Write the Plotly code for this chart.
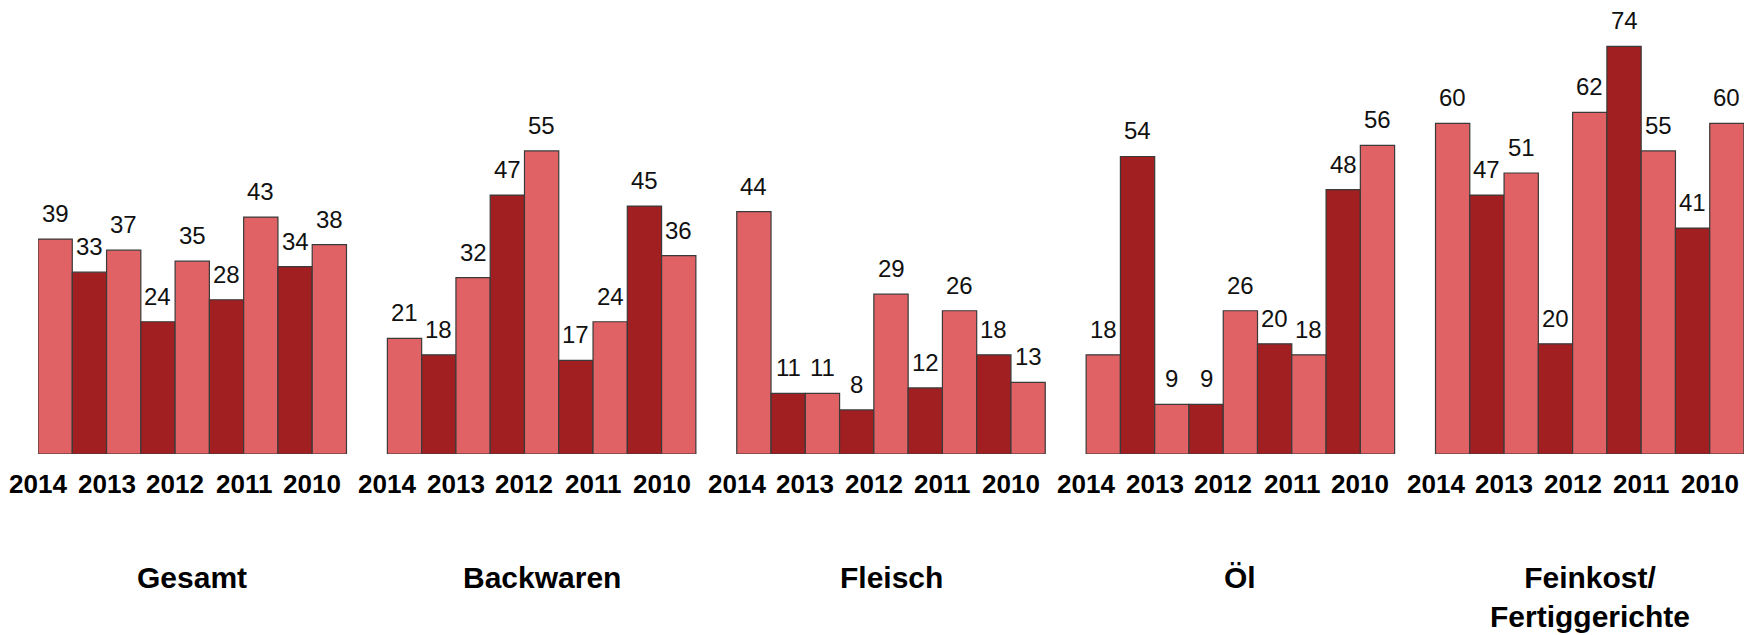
import plotly.graph_objects as go

groups = ["Gesamt", "Backwaren", "Fleisch", "Öl", "Feinkost/<br>Fertiggerichte"]
gesamt = [39, 33, 37, 24, 35, 28, 43, 34, 38]
backwaren = [21, 18, 32, 47, 55, 17, 24, 45, 36]
fleisch = [44, 11, 11, 8, 29, 12, 26, 18, 13]
oel = [18, 54, 9, 9, 26, 20, 18, 48, 56]
feinkost = [60, 47, 51, 20, 62, 74, 55, 41, 60]
series = [gesamt, backwaren, fleisch, oel, feinkost]
year_labels = ["2014", "2013", "2012", "2011", "2010"]

LIGHT = "#E06264"
DARK = "#A11F21"
GROUP_STEP = 10.193  # in bar widths
FONT = "Arial, 'Liberation Sans', sans-serif"

xs, ys, cols = [], [], []
for g, vals in enumerate(series):
    for i, v in enumerate(vals):
        xs.append(g * GROUP_STEP + i + 0.5)
        ys.append(v)
        cols.append(LIGHT if i % 2 == 0 else DARK)

fig = go.Figure()
fig.add_trace(go.Bar(
    x=xs, y=ys, width=[1] * len(xs),
    marker=dict(color=cols, line=dict(color="#3a3a3a", width=1.2)),
    hoverinfo="skip",
))

annotations = []
for x, y in zip(xs, ys):
    annotations.append(dict(
        x=x, y=y, xref="x", yref="y", text=str(y), showarrow=False,
        yanchor="bottom", yshift=10,
        font=dict(family=FONT, size=24, color="#111111"),
    ))
for g in range(len(series)):
    for k, lab in enumerate(year_labels):
        annotations.append(dict(
            x=g * GROUP_STEP + 2 * k, y=0, xref="x", yref="y",
            text="<b>" + lab + "</b>", showarrow=False,
            yanchor="middle", yshift=-30,
            font=dict(family=FONT, size=26, color="#000000"),
        ))
    annotations.append(dict(
        x=g * GROUP_STEP + 4.5, y=0, xref="x", yref="y",
        text="<b>" + groups[g] + "</b>", showarrow=False,
        yanchor="top", yshift=-105,
        font=dict(family=FONT, size=30, color="#000000"),
    ))

fig.update_layout(
    width=1753, height=635,
    margin=dict(l=38, r=9, t=0, b=181, pad=0),
    paper_bgcolor="white", plot_bgcolor="white",
    showlegend=False,
    bargap=0,
    annotations=annotations,
    xaxis=dict(range=[0, 4 * GROUP_STEP + 9], visible=False, fixedrange=True),
    yaxis=dict(range=[0, 82.4], visible=False, fixedrange=True),
)
fig.write_html(
    "out.html",
    config={"displayModeBar": False, "staticPlot": True},
    post_script="document.body.style.margin='0';document.body.style.overflow='hidden';",
)
